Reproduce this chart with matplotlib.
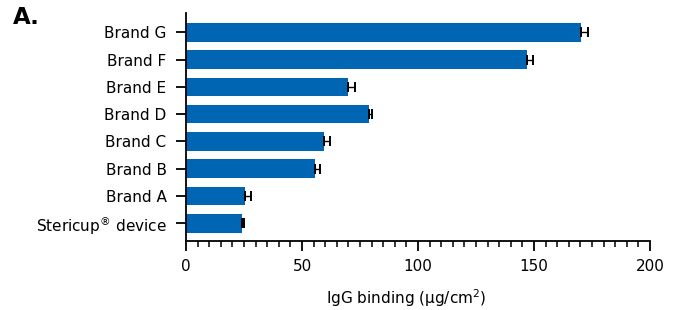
import matplotlib
matplotlib.use("Agg")
import matplotlib.pyplot as plt
from matplotlib.ticker import MultipleLocator

# bottom to top
labels = ["Stericup$^{®}$ device", "Brand A", "Brand B", "Brand C",
          "Brand D", "Brand E", "Brand F", "Brand G"]
binding = [24.1, 25.4, 55.6, 59.5, 78.9, 69.8, 147.0, 170.3]
sem = [1.0, 2.5, 2.3, 2.4, 1.1, 3.0, 2.7, 3.0]

BLUE = "#0065b2"

fig = plt.figure(figsize=(6.73, 3.10), dpi=100)
ax = fig.add_axes([0.2764, 0.2235, 0.6894, 0.7345])

pos = list(range(len(labels)))
ax.barh(pos, binding, height=0.68, color=BLUE, zorder=2)
ax.errorbar(binding, pos, xerr=[[0] * len(sem), sem], fmt="none",
            ecolor="black", elinewidth=1.0, capsize=3.5, capthick=1.4, zorder=3)

ax.set_xlim(0, 200)
ax.set_ylim(-0.64, 7.71)
ax.set_yticks(pos)
ax.set_yticklabels(labels, fontsize=11)
ax.xaxis.set_major_locator(MultipleLocator(50))
ax.xaxis.set_minor_locator(MultipleLocator(5))
ax.tick_params(axis="x", which="major", length=7, width=1.3, labelsize=11, pad=6)
ax.tick_params(axis="x", which="minor", length=4, width=1.1)
ax.tick_params(axis="y", length=7, width=1.3, pad=7)

for s in ("top", "right"):
    ax.spines[s].set_visible(False)
for s in ("left", "bottom"):
    ax.spines[s].set_linewidth(1.3)

ax.set_xlabel("IgG binding (µg/cm$^{2}$)", fontsize=11)
ax.xaxis.label.set_va("center")
ax.xaxis.set_label_coords(0.474, -0.252)

fig.text(13 / 673, 1 - 18 / 310, "A.", fontsize=16.5, fontweight="bold",
         va="center", ha="left")

fig.savefig("out.png", dpi=100)
